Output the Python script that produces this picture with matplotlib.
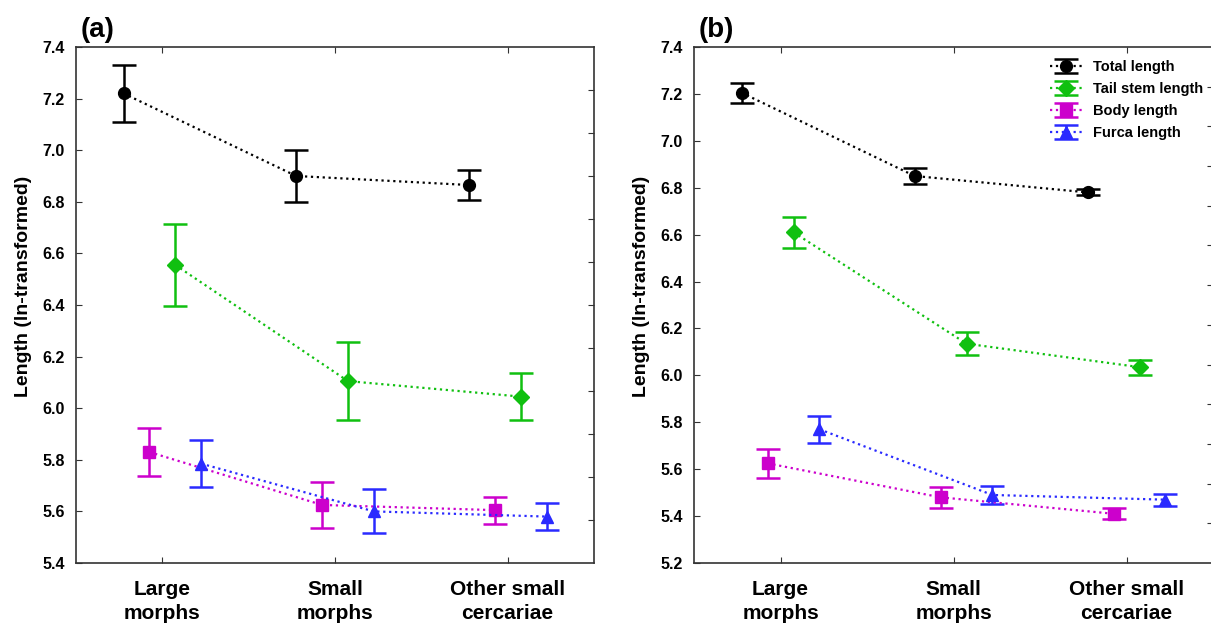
import numpy as np
import matplotlib
matplotlib.use("Agg")
import matplotlib.pyplot as plt

plt.rcParams["font.family"] = ["Liberation Sans", "DejaVu Sans"]
plt.rcParams["font.weight"] = "bold"

categories = ["Large\nmorphs", "Small\nmorphs", "Other small\ncercariae"]
series_names = ["Total length", "Tail stem length", "Body length", "Furca length"]

# panel (a): means and half-widths of the error bars
a_total = [7.22, 6.90, 6.865]
a_total_err = [0.11, 0.10, 0.06]
a_tail = [6.555, 6.105, 6.045]
a_tail_err = [0.16, 0.15, 0.09]
a_body = [5.83, 5.625, 5.605]
a_body_err = [0.093, 0.088, 0.052]
a_furca = [5.785, 5.60, 5.58]
a_furca_err = [0.09, 0.085, 0.052]

# panel (b)
b_total = [7.205, 6.85, 6.78]
b_total_err = [0.043, 0.033, 0.013]
b_tail = [6.61, 6.135, 6.035]
b_tail_err = [0.065, 0.05, 0.032]
b_body = [5.625, 5.48, 5.41]
b_body_err = [0.063, 0.045, 0.023]
b_furca = [5.77, 5.49, 5.47]
b_furca_err = [0.058, 0.04, 0.025]

COLORS = ["black", "#10c010", "#cc00cc", "#2a2aff"]
MARKERS = ["o", "D", "s", "^"]
MSIZE = [8.5, 8, 8, 8.5]
OFFSETS = [-0.225, 0.075, -0.075, 0.225]
SPINE = "#333333"


def draw_panel(ax, means, errs, ylim, n_right, label):
    x = np.arange(len(categories))
    for i, (m, e) in enumerate(zip(means, errs)):
        ax.errorbar(x + OFFSETS[i], m, yerr=e, color=COLORS[i], ls=":", lw=1.6,
                    marker=MARKERS[i], ms=MSIZE[i], capsize=8.5, capthick=1.8,
                    elinewidth=1.8, label=series_names[i])
    ax.set_xlim(-0.5, 2.5)
    ax.set_ylim(*ylim)
    ticks = np.arange(ylim[0], ylim[1] + 0.01, 0.2)
    ax.set_yticks(ticks)
    ax.set_yticklabels([f"{v:.1f}" for v in ticks])
    ax.set_xticks(x)
    ax.set_xticklabels(categories, fontsize=15, fontweight="bold", linespacing=1.35)
    ax.tick_params(axis="x", direction="in", length=4, top=True, pad=12, color=SPINE)
    ax.tick_params(axis="y", direction="in", length=4, labelsize=11.5, pad=8, color=SPINE)
    for s in ax.spines.values():
        s.set_color(SPINE)
        s.set_linewidth(1.2)
    ax.set_ylabel("Length (ln-transformed)", fontsize=14, fontweight="bold")
    ax.yaxis.set_label_coords(-0.085, 0.537)
    ax.text(0.008, 1.008, label, transform=ax.transAxes, fontsize=20,
            fontweight="bold", ha="left", va="bottom")
    # inward ticks on the right frame, on their own spacing
    rt = ax.twinx()
    rt.set_ylim(0, n_right)
    rt.set_yticks(np.arange(1, n_right))
    rt.set_yticklabels([])
    rt.tick_params(axis="y", direction="in", length=4, color=SPINE)
    for s in rt.spines.values():
        s.set_visible(False)


fig = plt.figure(figsize=(12.11, 6.23), dpi=100)
ax_a = fig.add_axes([0.0628, 0.0963, 0.4277, 0.8283])
ax_b = fig.add_axes([0.5731, 0.0963, 0.4286, 0.8283])

draw_panel(ax_a, [a_total, a_tail, a_body, a_furca],
           [a_total_err, a_tail_err, a_body_err, a_furca_err],
           (5.4, 7.4), 12, "(a)")
draw_panel(ax_b, [b_total, b_tail, b_body, b_furca],
           [b_total_err, b_tail_err, b_body_err, b_furca_err],
           (5.2, 7.4), 13, "(b)")

leg = ax_b.legend(loc="upper left", bbox_to_anchor=(0.66, 1.0), frameon=False,
                  prop={"weight": "bold", "size": 10.5}, handlelength=2.2,
                  handletextpad=0.8, labelspacing=0.55)

fig.savefig("out.png", dpi=100)
